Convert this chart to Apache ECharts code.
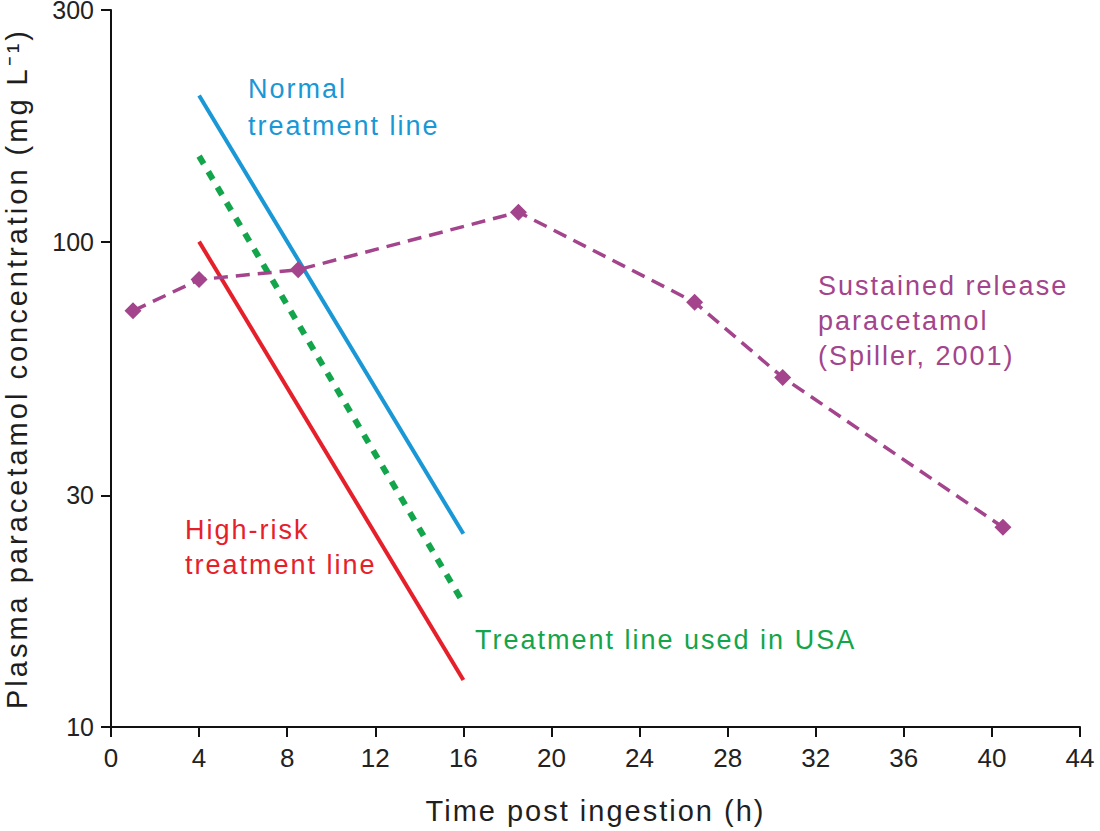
<!DOCTYPE html>
<html><head><meta charset="utf-8">
<script src="https://cdn.jsdelivr.net/npm/echarts@6/dist/echarts.min.js"></script>
<style>
html,body{margin:0;padding:0;background:#fff}
#c{width:1100px;height:831px}
#c svg text{letter-spacing:2px}
#c svg text[fill="#222"]{letter-spacing:0}
#c svg text[fill="#1e1e1e"]{letter-spacing:3px}
</style>
</head><body><div id="c"></div>
<script>
const xTicks = [0,4,8,12,16,20,24,28,32,36,40,44];
const yTicks = [10,30,100,300];
const normalLine = [[4,200],[16,25]];
const highRiskLine = [[4,100],[16,12.5]];
const usaLine = [[4,150],[16,18]];
const srTimes = [1,4,8.5,18.5,26.5,30.5,40.5];
const srValues = [72,83.5,87.5,115,75,52.5,25.8];

const FONT = "'Liberation Sans', Arial, sans-serif";
const chart = echarts.init(document.getElementById('c'), null, {renderer:'svg'});
chart.setOption({
  animation:false,
  grid:{left:111,right:20,top:10,bottom:104,outerBoundsMode:'none',containLabel:false},
  xAxis:{type:'value',min:0,max:44,interval:4,
    name:'Time post ingestion (h)',nameLocation:'middle',nameGap:69,
    nameTextStyle:{fontFamily:FONT,fontSize:29,color:'#1f1f1f'},
    axisLine:{lineStyle:{color:'#111',width:2}},
    axisTick:{length:10,lineStyle:{color:'#111',width:2}},
    axisLabel:{fontFamily:FONT,fontSize:26,color:'#222',margin:18},
    splitLine:{show:false}},
  yAxis:{type:'log',logBase:10,min:10,max:300,
    name:'Plasma paracetamol concentration (mg L\u207B\u00B9)',nameLocation:'middle',nameGap:80,
    nameTextStyle:{fontFamily:FONT,fontSize:29,color:'#1e1e1e'},
    axisLine:{show:true,lineStyle:{color:'#111',width:2}},
    axisTick:{show:true,length:10,customValues:yTicks,lineStyle:{color:'#111',width:2}},
    axisLabel:{fontFamily:FONT,fontSize:25,lineHeight:19,color:'#222',margin:17,customValues:yTicks},
    splitLine:{show:false},minorTick:{show:false}},
  series:[
    {type:'line',data:normalLine,symbol:'none',lineStyle:{color:'#1a97d5',width:4}},
    {type:'line',data:usaLine,symbol:'none',lineStyle:{color:'#13a54b',width:6,type:[9,9]}},
    {type:'line',data:highRiskLine,symbol:'none',lineStyle:{color:'#e6202a',width:4}},
    {type:'line',data:srTimes.map((t,i)=>[t,srValues[i]]),symbol:'diamond',symbolSize:17,
      itemStyle:{color:'#a3448c'},lineStyle:{color:'#a3448c',width:3.5,type:[14,8]}}
  ],
  graphic:[
    {type:'text',left:248,top:70,style:{text:'Normal\ntreatment line',fill:'#1a97d5',font:'27px '+FONT,lineHeight:37}},
    {type:'text',left:185,top:512,style:{text:'High-risk\ntreatment line',fill:'#e6202a',font:'27px '+FONT,lineHeight:35}},
    {type:'text',left:475,top:622,style:{text:'Treatment line used in USA',fill:'#13a54b',font:'27px '+FONT,lineHeight:35}},
    {type:'text',left:818,top:268,style:{text:'Sustained release\nparacetamol\n(Spiller, 2001)',fill:'#a3448c',font:'27px '+FONT,lineHeight:35}}
  ]
});
</script></body></html>
